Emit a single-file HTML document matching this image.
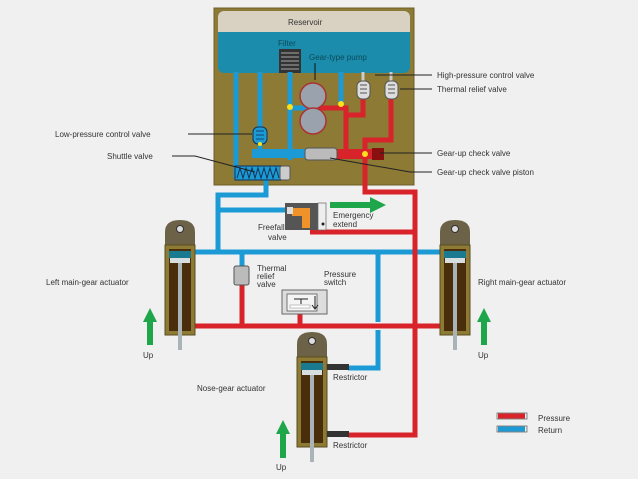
<!DOCTYPE html>
<html><head><meta charset="utf-8"><style>
html,body{margin:0;padding:0;background:#f0f0f0;}
svg{display:block;font-family:"Liberation Sans",sans-serif;}
text{font-size:8px;fill:#333;}
</style></head><body>
<svg width="638" height="479" viewBox="0 0 638 479">
<rect width="638" height="479" fill="#f0f0f0"/>
<!-- reservoir -->
<rect x="214" y="8" width="200" height="177" fill="#8c7a35" stroke="#6e5f28"/>
<rect x="218" y="11" width="192" height="62" rx="6" fill="#1b8cab"/>
<path d="M218 32 V17 a6 6 0 0 1 6 -6 H404 a6 6 0 0 1 6 6 V32 Z" fill="#d9d1c2"/>
<text x="288" y="25" style="font-size:8px">Reservoir</text>
<text x="278" y="46" style="fill:#0d4a5a">Filter</text>
<rect x="279" y="49" width="22" height="24" fill="#333"/>
<g stroke="#aaa" stroke-width="1"><line x1="281" y1="53" x2="299" y2="53"/><line x1="281" y1="57" x2="299" y2="57"/><line x1="281" y1="61" x2="299" y2="61"/><line x1="281" y1="65" x2="299" y2="65"/><line x1="281" y1="69" x2="299" y2="69"/></g>
<text x="309" y="60" style="fill:#0d4a5a">Gear-type pump</text>
<line x1="315" y1="63" x2="315" y2="80" stroke="#111"/>
<!-- blue lines in reservoir -->
<g stroke="#1c9ad6" stroke-width="5" fill="none">
<path d="M236 72 V178"/>
<path d="M260 72 V153"/>
<path d="M290 72 V160"/>
<path d="M290 108 H313"/>
<path d="M341 72 V104"/>
<path d="M266 180 V195 H218 V252"/>
<path d="M218 210 H290"/>
<path d="M190 252 H445"/>
<path d="M242 252 V266"/>
<path d="M378 252 V322 M378 330 V368 H348"/>
<path d="M525 429 H498"/>
</g>
<rect x="252" y="149" width="58" height="9" fill="#1c9ad6"/>
<rect x="253" y="127" width="14" height="17" rx="5" fill="#1c9ad6" stroke="#135"/>
<g stroke="#135" stroke-width="0.8"><line x1="256" y1="131" x2="264" y2="131"/><line x1="256" y1="135" x2="264" y2="135"/><line x1="256" y1="139" x2="264" y2="139"/></g>
<rect x="235" y="166" width="47" height="14" fill="#1c9ad6" stroke="#135"/>
<path d="M237 178 l3 -10 l3 10 l3 -10 l3 10 l3 -10 l3 10 l3 -10 l3 10 l3 -10 l3 10 l3 -10 l3 10 l3 -10 l3 10" stroke="#135" fill="none"/>
<rect x="280" y="166" width="10" height="14" rx="2" fill="#ccc" stroke="#555"/>
<!-- red lines -->
<g stroke="#d8232a" stroke-width="5" fill="none">
<path d="M318 108 H346 V152"/>
<path d="M363 98 V115 H346"/>
<path d="M391 98 V140 H365 V150"/>
<path d="M365 158 V192 H415 V435 H348"/>
<path d="M310 232 H415"/>
<path d="M190 326 H445"/>
<path d="M242 285 V326"/>
<path d="M300 313 V326"/>
<path d="M525 416 H498"/>
</g>
<rect x="335" y="149" width="40" height="10" fill="#d8232a"/>
<rect x="372" y="148" width="12" height="12" fill="#8a1010"/>
<rect x="305" y="148" width="32" height="12" rx="3" fill="#bbb" stroke="#555"/>
<circle cx="365" cy="154" r="3" fill="#ffe01a"/>
<!-- legend outlines -->
<rect x="497" y="413" width="30" height="6" fill="none" stroke="#555" stroke-width="0.7"/>
<rect x="497" y="426" width="30" height="6" fill="none" stroke="#555" stroke-width="0.7"/>
<text x="538" y="421">Pressure</text>
<text x="538" y="433">Return</text>
<!-- HP valves -->
<line x1="363" y1="72" x2="363" y2="82" stroke="#ccc" stroke-width="3"/>
<line x1="391" y1="72" x2="391" y2="82" stroke="#ccc" stroke-width="3"/>
<rect x="357" y="81" width="13" height="18" rx="5" fill="#ddd" stroke="#555"/>
<rect x="385" y="81" width="13" height="18" rx="5" fill="#ddd" stroke="#555"/>
<g stroke="#333" stroke-width="0.8"><line x1="360" y1="85" x2="367" y2="85"/><line x1="360" y1="89" x2="367" y2="89"/><line x1="360" y1="93" x2="367" y2="93"/><line x1="388" y1="85" x2="395" y2="85"/><line x1="388" y1="89" x2="395" y2="89"/><line x1="388" y1="93" x2="395" y2="93"/></g>
<!-- pump -->
<circle cx="313" cy="96" r="13" fill="#9aa3ad" stroke="#a33" stroke-width="1.5"/>
<circle cx="313" cy="121" r="13" fill="#9aa3ad" stroke="#a33" stroke-width="1.5"/>
<circle cx="290" cy="107" r="3" fill="#ffe01a"/>
<circle cx="341" cy="104" r="3" fill="#ffe01a"/>
<circle cx="260" cy="144" r="2" fill="#ffe01a"/>
<!-- labels + leaders -->
<g stroke="#222" stroke-width="1" fill="none">
<path d="M432 75 H375"/><path d="M432 89 H400"/>
<path d="M188 134 H252"/><path d="M172 156 H195 L255 172"/>
<path d="M432 153 H380"/><path d="M432 172 H410 L330 158"/>
</g>
<text x="437" y="78">High-pressure control valve</text>
<text x="437" y="92">Thermal relief valve</text>
<text x="55" y="137">Low-pressure control valve</text>
<text x="107" y="159">Shuttle valve</text>
<text x="437" y="156">Gear-up check valve</text>
<text x="437" y="175">Gear-up check valve piston</text>
<!-- freefall valve -->
<rect x="285" y="203" width="33" height="27" fill="#555"/>
<path d="M292 208 H310 V228 H302 V216 H292 Z" fill="#f0922a"/>
<rect x="287" y="207" width="6" height="7" fill="#ddd"/>
<rect x="318" y="203" width="8" height="27" fill="#eee" stroke="#666" stroke-width="0.7"/>
<circle cx="323" cy="224" r="1.5" fill="#222"/>
<text x="258" y="230">Freefall</text><text x="268" y="240">valve</text>
<text x="333" y="218">Emergency</text><text x="333" y="227">extend</text>
<path d="M330 202 H370 V197 L386 205 L370 213 V208 H330 Z" fill="#1fa64a"/>
<!-- thermal relief & pressure switch -->
<rect x="234" y="266" width="15" height="19" rx="2" fill="#bbb" stroke="#555"/>
<text x="257" y="271">Thermal</text><text x="257" y="279">relief</text><text x="257" y="287">valve</text>
<text x="324" y="277">Pressure</text><text x="324" y="285">switch</text>
<rect x="282" y="290" width="45" height="24" fill="#ddd" stroke="#666"/>
<rect x="287" y="294" width="30" height="17" fill="#f4f4f4" stroke="#444" stroke-width="0.7"/>
<path d="M294 299 H308 M301 299 V304 M315 296 V308 M312 305 L315 309 L318 305" stroke="#222" fill="none"/>
<rect x="290" y="305" width="20" height="3" fill="#fff" stroke="#888" stroke-width="0.5"/>
<!-- actuators -->
<g id="act">
<path d="M165 245 V232 Q165 220 180 220 Q195 220 195 232 V245 Z" fill="#6b6248"/>
<circle cx="180" cy="229" r="3.5" fill="#ddd" stroke="#333"/>
<rect x="165" y="245" width="30" height="90" fill="#8c7a35" stroke="#5a4d20"/>
<rect x="169" y="249" width="22" height="82" fill="#4a2e0c"/>
<rect x="169" y="251" width="22" height="7" fill="#1a7a90"/>
<rect x="170" y="258" width="20" height="5" fill="#d8dde0"/>
<rect x="178" y="263" width="4" height="87" fill="#aab3b8"/>
</g>
<use href="#act" x="275"/>
<use href="#act" x="132" y="112"/>
<rect x="327" y="364" width="22" height="6" fill="#333"/>
<rect x="327" y="431" width="22" height="6" fill="#333"/>
<text x="46" y="285">Left main-gear actuator</text>
<text x="478" y="285">Right main-gear actuator</text>
<text x="197" y="391">Nose-gear actuator</text>
<text x="333" y="380">Restrictor</text>
<text x="333" y="448">Restrictor</text>
<!-- up arrows -->
<path d="M147 345 V322 H143 L150 308 L157 322 H153 V345 Z" fill="#1fa64a"/>
<path d="M481 345 V322 H477 L484 308 L491 322 H487 V345 Z" fill="#1fa64a"/>
<path d="M280 458 V434 H276 L283 420 L290 434 H286 V458 Z" fill="#1fa64a"/>
<text x="143" y="358">Up</text><text x="478" y="358">Up</text><text x="276" y="470">Up</text>
</svg>
</body></html>
